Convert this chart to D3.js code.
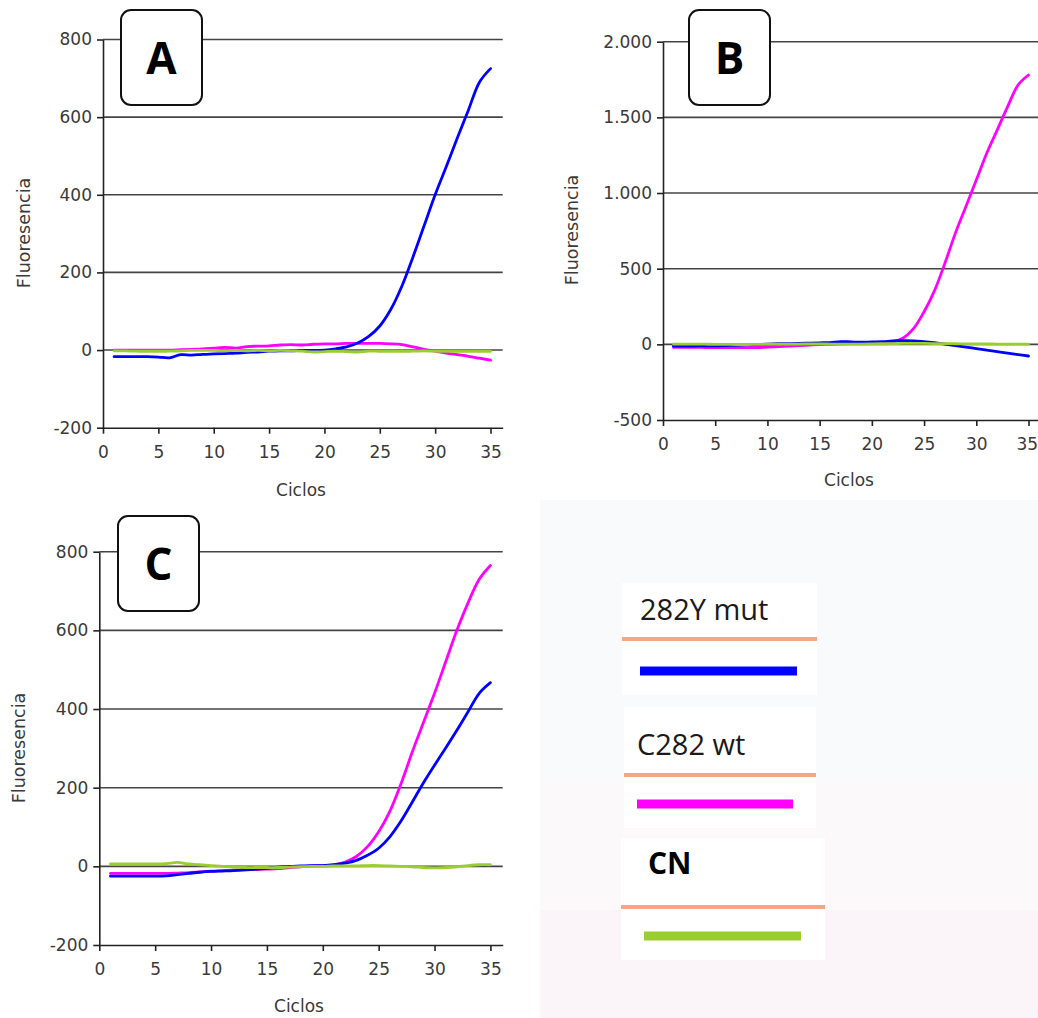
<!DOCTYPE html>
<html><head><meta charset="utf-8">
<script src="https://cdn.jsdelivr.net/npm/d3@7"></script>
<style>body{margin:0;background:#fff}svg{display:block}</style>
</head><body>
<svg id="chart" width="1038" height="1018"></svg>
<script>
// ---------- data ----------
const cycles = d3.range(1, 36);
const xTicks = [0, 5, 10, 15, 20, 25, 30, 35];
const yTicksA = [-200, 0, 200, 400, 600, 800];
const yTicksB = [-500, 0, 500, 1000, 1500, 2000];
const yTicksC = [-200, 0, 200, 400, 600, 800];
const yTickLabelsB = ["-500", "0", "500", "1.000", "1.500", "2.000"];

const seriesNames = ["282Y mut", "C282 wt", "CN"];
const seriesColors = ["#0000ff", "#ff00ff", "#9acd32"];

const aMut = [-17,-17,-17,-17,-18,-20,-12,-13,-11,-10,-9,-8,-6,-5,-3,-2,-2,-1,-1,0,3,8,18,35,62,105,165,240,320,400,472,546,618,690,725];
const aWt  = [0,0,0,0,0,0,1,2,3,5,7,5,9,10,11,13,14,13,15,16,16,17,17,17,17,16,14,8,2,-3,-8,-12,-16,-21,-26];
const aCN  = [-2,-2,-3,-3,-3,-3,-2,-1,-1,-1,-2,-1,-2,-1,-2,-1,-2,-3,-5,-4,-3,-4,-5,-3,-3,-3,-3,-3,-2,-3,-3,-3,-3,-3,-3];

const bMut = [-12,-12,-11,-10,-10,-8,-6,-4,-2,2,4,5,6,8,10,12,18,16,14,16,18,22,24,23,18,12,2,-8,-18,-28,-38,-48,-58,-68,-77];
const bWt  = [-20,-20,-20,-21,-22,-22,-22,-22,-21,-18,-15,-12,-8,-5,-2,0,3,5,7,10,12,18,42,105,215,355,537,735,910,1086,1263,1416,1571,1714,1780];
const bCN  = [2,2,2,1,0,0,-1,-1,0,1,1,2,2,3,3,2,1,1,2,3,4,5,6,6,6,5,5,4,3,3,3,2,2,2,2];

const cMut = [-25,-25,-25,-25,-25,-24,-21,-18,-15,-13,-12,-11,-9,-7,-5,-2,0,1,2,2,4,8,15,28,46,75,115,163,212,257,301,346,393,440,467];
const cWt  = [-18,-18,-18,-18,-18,-18,-17,-16,-14,-12,-11,-10,-9,-8,-7,-6,-3,-1,1,2,4,11,25,50,88,140,210,290,365,440,520,600,670,730,765];
const cCN  = [6,6,6,6,6,7,10,6,4,2,0,-2,-3,-3,-3,-3,-2,-1,0,0,1,1,1,2,2,1,0,-1,-3,-4,-3,-1,2,4,4];

// ---------- layout ----------
const panels = [
  {letter:"A", series:[aWt, aMut, aCN], order:[1,0,2], yTicks:yTicksA, yLabels:yTicksA.map(String),
   x0:103, x1:502.7, yTop:39.5, yBot:427.7, box:[121,10,81,95],
   xLab:[301,496], yLab:[30,233]},
  {letter:"B", series:[bWt, bMut, bCN], order:[1,0,2], yTicks:yTicksB, yLabels:yTickLabelsB,
   x0:663, x1:1040, yTop:41.7, yBot:420, box:[689,10,81,95],
   xLab:[849,486], yLab:[578,230]},
  {letter:"C", series:[cWt, cMut, cCN], order:[1,0,2], yTicks:yTicksC, yLabels:yTicksC.map(String),
   x0:99.3, x1:502.7, yTop:551.7, yBot:945, box:[118,516,81,95],
   xLab:[299,1012], yLab:[25,748]}
];
const X_MAX = 36.1;

const svg = d3.select("#chart");

// faint background tints of lower-right area
svg.append("rect").attr("x",540).attr("y",500).attr("width",498).attr("height",280).attr("fill","#f9fafc");
svg.append("rect").attr("x",540).attr("y",780).attr("width",498).attr("height",130).attr("fill","#fcf9fb");
svg.append("rect").attr("x",540).attr("y",910).attr("width",498).attr("height",108).attr("fill","#fbf5f9");

const textColor = "#3a3a3a";
const gridColor = "#444";

panels.forEach(p => {
  const g = svg.append("g");
  const x = d3.scaleLinear().domain([0, X_MAX]).range([p.x0, p.x1]);
  const y = d3.scaleLinear().domain([p.yTicks[0], p.yTicks[p.yTicks.length-1]]).range([p.yBot, p.yTop]);

  // gridlines
  g.append("g").selectAll("line").data(p.yTicks.slice(1)).join("line")
    .attr("x1", x(0)).attr("x2", x(X_MAX))
    .attr("y1", d => y(d)).attr("y2", d => y(d))
    .attr("stroke", gridColor).attr("stroke-width", 1.6);

  // axes
  const xAxis = d3.axisBottom(x).tickValues(xTicks).tickSize(6).tickSizeOuter(0).tickPadding(12);
  const yAxis = d3.axisLeft(y).tickValues(p.yTicks).tickSize(6).tickSizeOuter(0).tickPadding(5)
    .tickFormat((d,i) => p.yLabels[i]);
  const gx = g.append("g").attr("transform", `translate(0,${p.yBot})`).call(xAxis);
  const gy = g.append("g").attr("transform", `translate(${p.x0},0)`).call(yAxis);
  [gx, gy].forEach(a => {
    a.select(".domain").attr("stroke", "#222").attr("stroke-width", 1.6);
    a.selectAll(".tick line").attr("stroke", "#222").attr("stroke-width", 1.6);
    a.selectAll(".tick text").attr("fill", textColor)
      .style("font-family", "'DejaVu Sans', sans-serif").style("font-size", "17px");
  });
  // keep the last x label inside the page edge
  gx.selectAll(".tick text").filter(d => d === 35 && p.x1 > 1000).attr("dx", "-0.1em");

  // axis titles
  g.append("text").attr("x", p.xLab[0]).attr("y", p.xLab[1]).attr("text-anchor", "middle")
    .attr("fill", textColor).style("font-family", "'DejaVu Sans', sans-serif").style("font-size", "17px")
    .text("Ciclos");
  g.append("text").attr("transform", `translate(${p.yLab[0]},${p.yLab[1]}) rotate(-90)`)
    .attr("text-anchor", "middle").attr("fill", textColor)
    .style("font-family", "'DejaVu Sans', sans-serif").style("font-size", "17.5px")
    .text("Fluoresencia");

  // curves (draw order: wt, mut, CN)
  const line = d3.line().x((d,i) => x(cycles[i])).y(d => y(d)).curve(d3.curveCatmullRom.alpha(0.5));
  [0, 1, 2].forEach(si => {
    const colorIdx = p.order[si];
    g.append("path").datum(p.series[si]).attr("d", line)
      .attr("fill", "none").attr("stroke", seriesColors[colorIdx])
      .attr("stroke-width", 2.8).attr("stroke-linejoin", "round").attr("stroke-linecap", "round");
  });

  // panel letter box
  g.append("rect").attr("x", p.box[0]).attr("y", p.box[1]).attr("width", p.box[2]).attr("height", p.box[3])
    .attr("rx", 10).attr("ry", 10).attr("fill", "#fff").attr("stroke", "#111").attr("stroke-width", 2);
  g.append("text").attr("x", p.box[0] + p.box[2]/2).attr("y", p.box[1] + p.box[3]/2 + 16)
    .attr("text-anchor", "middle").attr("fill", "#000")
    .style("font-family", "'Open Sans', sans-serif").style("font-weight", "700").style("font-size", "44px")
    .text(p.letter);
});

// ---------- legend ----------
const legendRows = [
  {box:[622,583,195,112], text:[640,620], sep:[622,817,639], bar:[640,797,671], bold:false},
  {box:[624,707,192,121], text:[637,755], sep:[624,816,775], bar:[637,793,804], bold:false},
  {box:[621,838,204,122], text:[648,874], sep:[621,825,907], bar:[644,801,936], bold:true}
];
const lg = svg.append("g");
legendRows.forEach((r, i) => {
  lg.append("rect").attr("x", r.box[0]).attr("y", r.box[1]).attr("width", r.box[2]).attr("height", r.box[3]).attr("fill", "#fff");
  lg.append("text").attr("x", r.text[0]).attr("y", r.text[1])
    .attr("fill", r.bold ? "#000" : "#1a1a1a")
    .style("font-family", "'Open Sans', sans-serif").style("font-size", r.bold ? "30px" : "29px")
    .style("font-weight", r.bold ? "700" : "400")
    .text(seriesNames[i]);
  lg.append("line").attr("x1", r.sep[0]).attr("x2", r.sep[1]).attr("y1", r.sep[2]).attr("y2", r.sep[2])
    .attr("stroke", "#f9a584").attr("stroke-width", 4);
  lg.append("line").attr("x1", r.bar[0]).attr("x2", r.bar[1]).attr("y1", r.bar[2]).attr("y2", r.bar[2])
    .attr("stroke", seriesColors[i]).attr("stroke-width", 9);
});
</script>
</body></html>
